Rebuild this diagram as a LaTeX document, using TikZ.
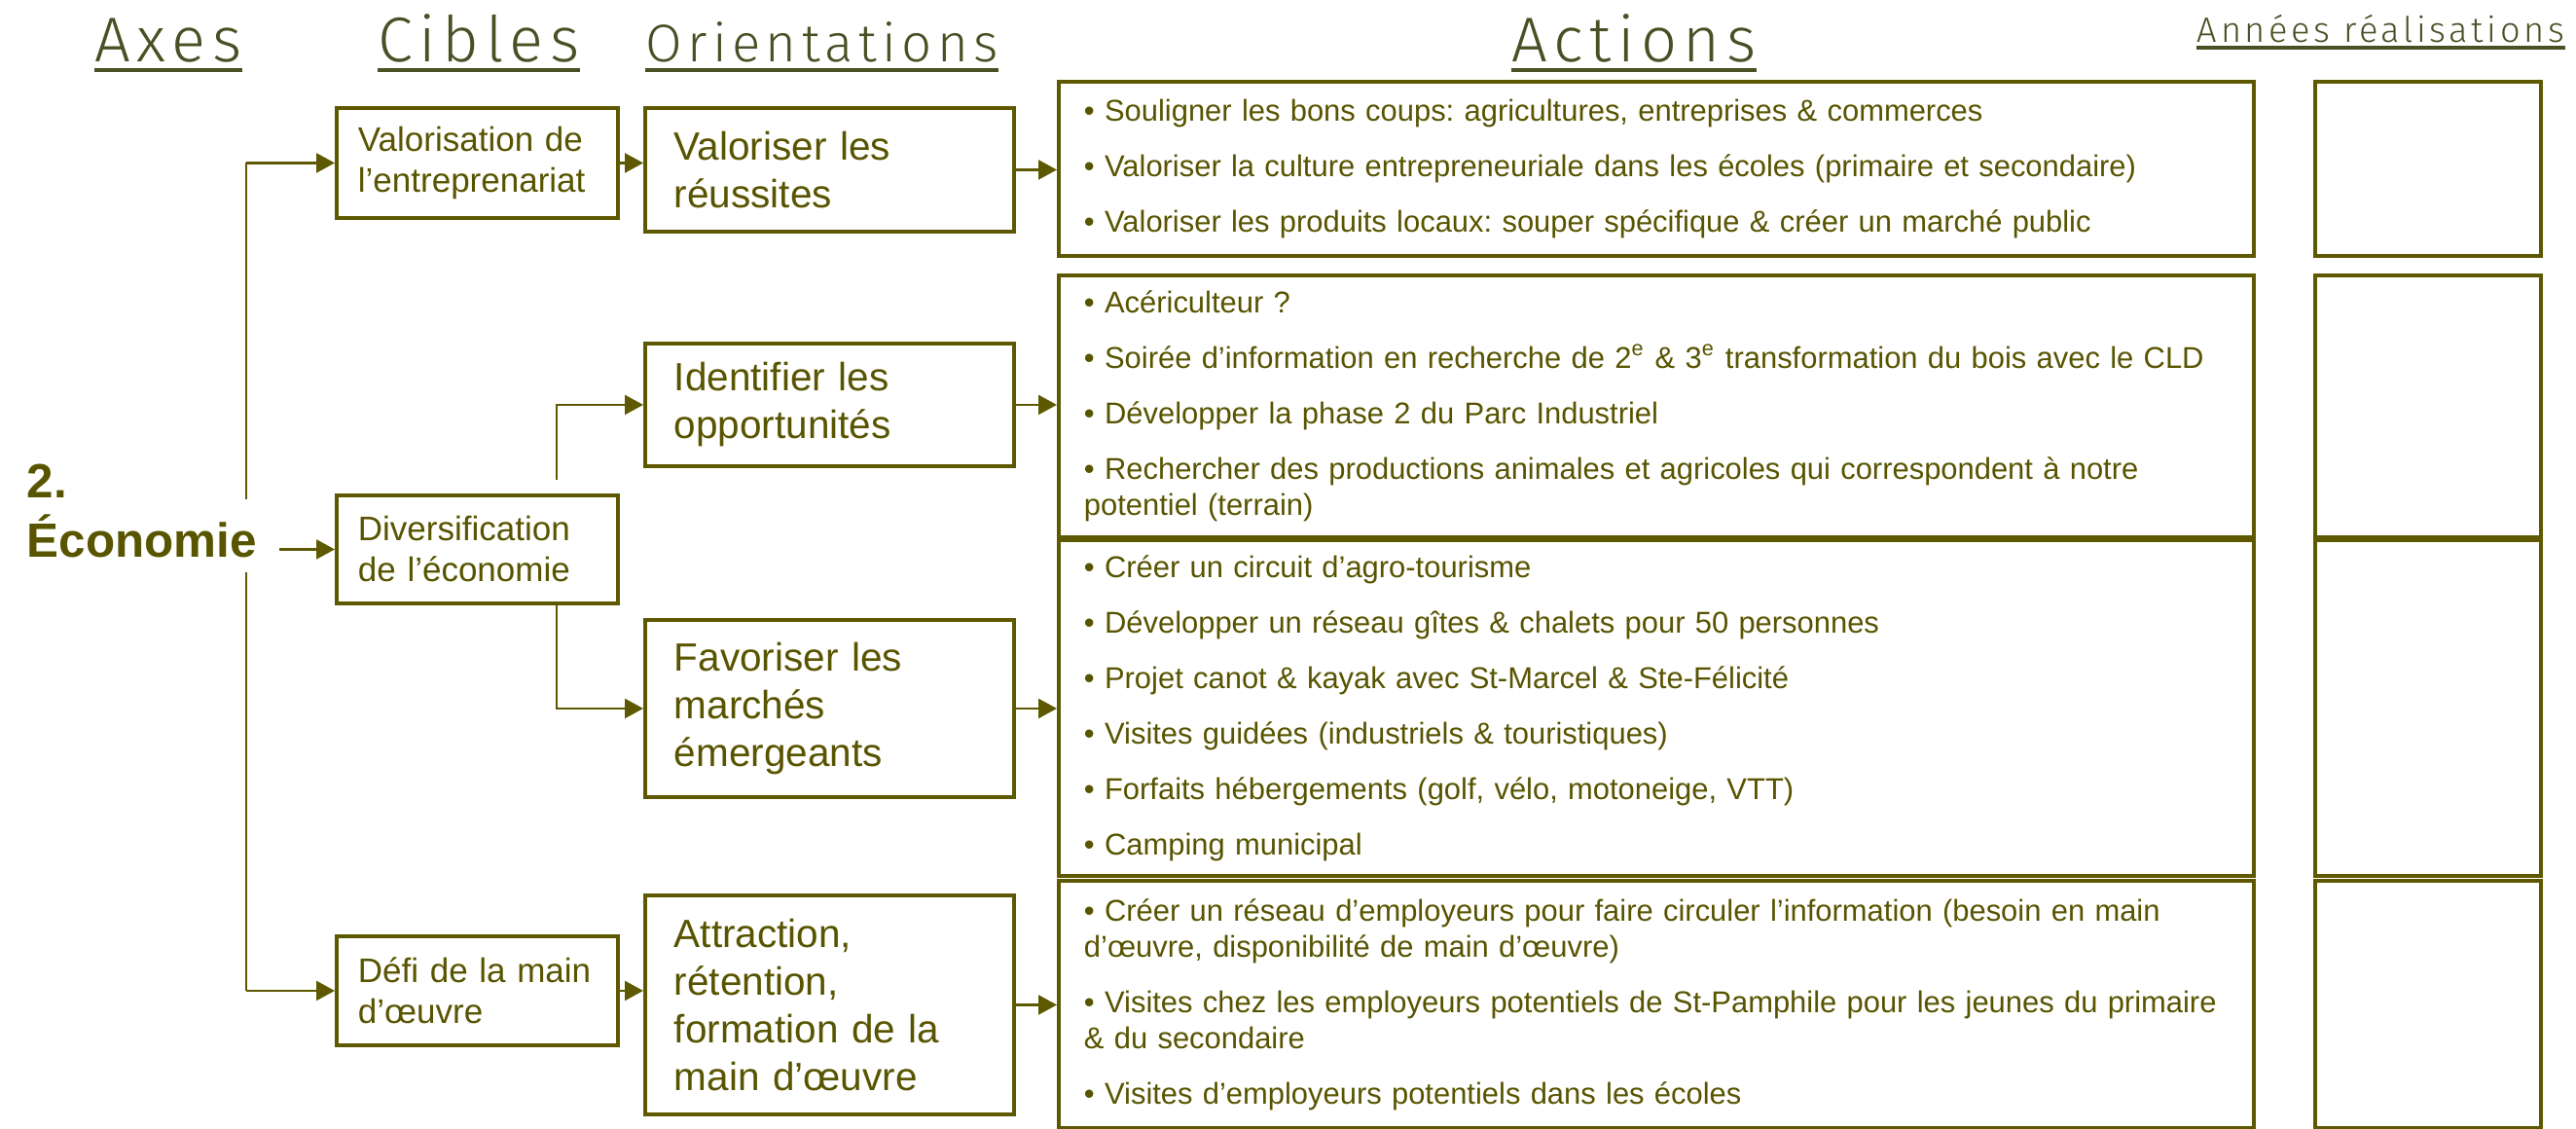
\documentclass[tikz,border=0pt]{standalone}
\usepackage{fontspec}
\setmainfont{Liberation Sans}
\IfFontExistsTF{Fira Sans Light}{%
    \newfontfamily\titrefont{Fira Sans Light}[LetterSpace=10]}{%
    \newfontfamily\titrefont{DejaVu Sans}}
\usepackage{tikz}
\usetikzlibrary{arrows.meta,positioning,calc}

\definecolor{olivetrait}{RGB}{94,89,0}
\definecolor{olivetexte}{RGB}{88,84,0}
\definecolor{vertitre}{RGB}{72,80,36}

\frenchspacing
\hyphenpenalty=10000
\exhyphenpenalty=10000

\begin{document}
\begin{tikzpicture}
        [>={Triangle[length=0.19cm,width=0.2cm]}, y=-1cm,
        boite/.style = {rectangle, draw=olivetrait, line width=1.1pt, fill=white, anchor=north west,
                        inner ysep=0pt, align=left, text=olivetexte},
        cible/.style = {boite, text width=2.45cm, inner xsep=0.22cm, font={\fontsize{9.96}{11.95}\selectfont}},
        orient/.style = {boite, text width=3.19cm, inner xsep=0.3cm, font={\fontsize{11.52}{13.94}\selectfont}},
        action/.style = {boite, text width=11.76cm, inner xsep=0.26cm, font={\fontsize{8.8}{10.53}\selectfont}},
        annee/.style = {rectangle, draw=olivetrait, line width=1.1pt, minimum width=2.32cm},
        titre/.style = {anchor=base, inner sep=0pt, text=vertitre, font={\titrefont\fontsize{18.5}{22}\selectfont}},
        souligne/.style = {draw=vertitre, line width=1pt},
        axe/.style = {inner sep=0pt, anchor=base west, text=olivetexte, font={\bfseries\fontsize{14.05}{17}\selectfont}},
        lien/.style = {draw=olivetrait, line width=0.7pt},
        fleche/.style = {lien, ->}]

        \useasboundingbox (0,0) rectangle (26.47,11.59);

        %% titres
        \node[titre] (axes) at (1.73,0.63)     {Axes};
        \node[titre] (cibles) at (4.92,0.63)   {Cibles};
        \node[titre, font={\titrefont\fontsize{15.5}{18}\selectfont}] (orients) at (8.445,0.63) {Orientations};
        \node[titre] (actions) at (16.79,0.63) {Actions};
        \node[titre, font={\titrefont\fontsize{10.3}{12}\selectfont}] (annees) at (24.465,0.43) {Années réalisations};
        \foreach \t in {axes,cibles,orients,actions}
            \draw[souligne] ([yshift=-0.09cm]\t.base west) -- ([yshift=-0.09cm]\t.base east);
        \draw[souligne] ([yshift=-0.06cm]annees.base west) -- ([yshift=-0.06cm]annees.base east);

        %% cibles
        \node[cible, minimum height=1.13cm] (valor) at (3.44,1.09)  {Valorisation de\\l’entreprenariat};
        \node[cible, minimum height=1.11cm] (divers) at (3.44,5.07) {Diversification\\de l’économie};
        \node[cible, minimum height=1.12cm] (defi) at (3.44,9.60)   {Défi de la main\\d’œuvre};

        %% orientations
        \node[orient, minimum height=1.27cm] (valo) at (6.61,1.09)  {Valoriser les\\réussites};
        \node[orient, minimum height=1.26cm] (ident) at (6.61,3.51) {Identifier les\\opportunités};
        \node[orient, minimum height=1.82cm] (favor) at (6.61,6.35) {Favoriser les\\marchés\\émergeants};
        \node[orient, minimum height=2.25cm] (attir) at (6.61,9.18) {Attraction,\\rétention,\\formation de la\\main d’œuvre};

        %% actions
        \node[action, minimum height=1.79cm] (act1) at (10.86,0.82)
            {• Souligner les bons coups: agricultures, entreprises \& commerces\\[0.2cm]
             • Valoriser la culture entrepreneuriale dans les écoles (primaire et secondaire)\\[0.2cm]
             • Valoriser les produits locaux: souper spécifique \& créer un marché public};
        \node[action, minimum height=2.69cm] (act2) at (10.86,2.81)
            {• Acériculteur~?\\[0.2cm]
             • Soirée d’information en recherche de 2\textsuperscript{e} \& 3\textsuperscript{e} transformation du bois avec le CLD\\[0.2cm]
             • Développer la phase 2 du Parc Industriel\\[0.2cm]
             • Rechercher des productions animales et agricoles qui correspondent à notre\\
             potentiel (terrain)};
        \node[action, minimum height=3.45cm] (act3) at (10.86,5.53)
            {• Créer un circuit d’agro-tourisme\\[0.2cm]
             • Développer un réseau gîtes \& chalets pour 50 personnes\\[0.2cm]
             • Projet canot \& kayak avec St-Marcel \& Ste-Félicité\\[0.2cm]
             • Visites guidées (industriels \& touristiques)\\[0.2cm]
             • Forfaits hébergements (golf, vélo, motoneige, VTT)\\[0.2cm]
             • Camping municipal};
        \node[action, minimum height=2.54cm] (act4) at (10.86,9.03)
            {• Créer un réseau d’employeurs pour faire circuler l’information (besoin en main\\
             d’œuvre, disponibilité de main d’œuvre)\\[0.2cm]
             • Visites chez les employeurs potentiels de St-Pamphile pour les jeunes du primaire\\
             \& du secondaire\\[0.2cm]
             • Visites d’employeurs potentiels dans les écoles};

        %% années de réalisation
        \foreach \i/\h in {1/1.79, 2/2.69, 3/3.45, 4/2.54}
            \node[annee, minimum height=\h cm, right=0.59cm of act\i] (an\i) {};

        %% liens
        \coordinate (axe) at (2.53,5.69);
        \coordinate (fourche) at (5.72,5.69);
        \draw[lien] (axe |- valor.west) -- (axe |- defi.west);
        \draw[fleche] (axe |- valor.west) -- (valor.west);
        \draw[fleche] (axe |- defi.west) -- (defi.west);
        \draw[fleche, shorten <=0.14cm] (divers.north -| fourche) |- (ident.west);
        \draw[fleche] (divers.south -| fourche) |- (favor.west);
        \draw[fleche] (valor.east) -- (valor.east -| valo.west);
        \draw[fleche] (defi.east) -- (defi.east -| attir.west);
        \foreach \a/\b in {valo/act1, ident/act2, favor/act3, attir/act4}
            \draw[fleche] (\a.east) -- (\a.east -| \b.west);

        %% axe
        \node[axe] (num) at (0.27,5.11) {2.};
        \node[axe, inner ysep=0.15cm, fill=white] (eco) at (0.27,5.72) {Économie};
        \draw[fleche, shorten <=0.23cm] (eco.east |- divers.west) -- (divers.west);
    \end{tikzpicture}
\end{document}
